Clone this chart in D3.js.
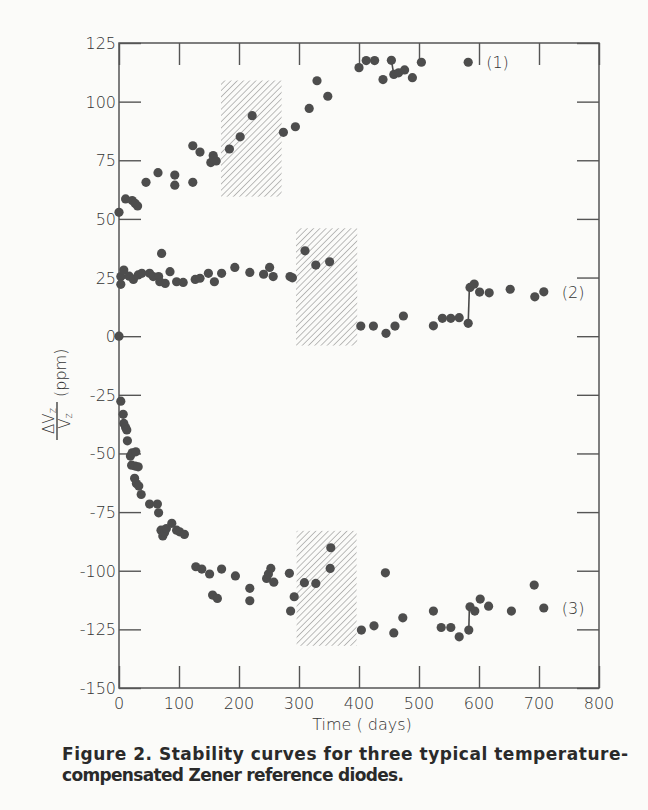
<!DOCTYPE html>
<html>
<head>
<meta charset="utf-8">
<script src="https://cdn.jsdelivr.net/npm/d3@7"></script>
<style>
  html, body { margin: 0; padding: 0; background: #fbfbf9; }
  svg { display: block; }
  text { font-family: "DejaVu Sans", "Lato", sans-serif; }
</style>
</head>
<body>
<svg id="chart" width="648" height="810"></svg>
<script>
// ---------- data (days, ppm) ----------
const series1 = [
  [0,52.8],[11,58.5],[22,57.8],[27,56.6],[31,55.5],[45,65.6],[65,69.7],[93,68.7],[93,64.4],
  [123,65.6],[123,81.2],[135,78.5],[153,74],[157,77],[162,74.7],[158,75.5],[184,79.8],[202,85],
  [222,94],[274,86.9],[294,89.3],[317,97.1],[330,108.9],[348,102.3],[400,114.5],[412,117.5],
  [426,117.5],[440,109.4],[454,117.6],[458,111.6],[466,112.3],[476,113.5],[489,110.2],[504,116.8],
  [582,116.8]
];
const series2 = [
  [0,0],[3,25.4],[3,22.1],[8,28.2],[17,25.6],[24,24.2],[32,26.1],[38,26.8],[51,26.8],[57,25.4],
  [66,25.4],[68,23.2],[71,35.3],[77,22.5],[85,27.5],[96,23.2],[107,22.9],[127,24.2],[135,24.7],
  [149,26.8],[159,23.2],[171,26.8],[193,29.3],[218,27.2],[241,26.4],[251,29.3],[257,25.4],
  [285,25.4],[289,24.9],[310,36.4],[328,30.3],[351,31.7],[403,4.3],[424,4.3],[445,1.2],[460,4.3],
  [474,8.6],[524,4.4],[539,7.6],[553,7.6],[567,7.9],[582,5.5],[585,20.8],[592,22.2],[601,18.8],
  [617,18.5],[652,20],[693,16.8],[708,18.9]
];
const series3 = [
  [3,-27.7],[7,-33.3],[8,-37.2],[11,-38.9],[13,-40],[14,-44.6],[19,-51.1],[21,-55],[22,-49.7],
  [27,-55.4],[28,-49.3],[32,-55.7],[26,-60.6],[29,-62.8],[33,-63.9],[37,-67.5],[51,-71.6],
  [64,-71.6],[66,-75.3],[70,-82.7],[73,-85.2],[76,-83.7],[79,-82],[88,-79.8],[96,-82.7],
  [101,-83.4],[109,-84.5],[128,-98.3],[138,-99.3],[151,-101.4],[156,-110.4],[164,-111.8],
  [171,-99.3],[194,-102.2],[218,-107.5],[218,-112.8],[246,-103.3],[249,-101.4],[253,-99],
  [258,-104.9],[284,-101.1],[286,-117.2],[292,-111.1],[309,-105.1],[328,-105.4],[352,-99],
  [353,-90.2],[404,-125.3],[425,-123.5],[444,-100.9],[458,-126.5],[473,-120.1],[524,-117.2],
  [537,-124.2],[553,-124.2],[567,-128.2],[583,-125.3],[585,-115.4],[593,-117.2],[602,-112.1],
  [616,-115.1],[654,-117.2],[692,-106.1],[708,-115.9]
];
// jumps joined by a line: [day1, val1, day2, val2]
const links = [
  [454,117.6,458,111.6],
  [582,5.5,584,20.8],
  [583,-125.3,584,-115.4]
];
// hatched periods: [dayStart, dayEnd, valLow, valHigh]
const hatches = [
  [170,271,59.5,109],
  [295,397,-4,46],
  [296,396,-132,-83]
];
const seriesLabels = [["(1)",582,116.8],["(2)",708,18.9],["(3)",708,-115.9]];
const xTicks = [0,100,200,300,400,500,600,700,800];
const yTicks = [125,100,75,50,25,0,-25,-50,-75,-100,-125,-150];

// ---------- layout ----------
const svg = d3.select("#chart");
const L = 119, R = 599, T = 43, B = 688;
const x = d3.scaleLinear().domain([0, 800]).range([L, R]);
const y = d3.scaleLinear().domain([-150, 125]).range([B, T]);
const ink = "#555";

// hatch pattern
const defs = svg.append("defs");
const pat = defs.append("pattern").attr("id","hatch").attr("patternUnits","userSpaceOnUse")
  .attr("width",4.4).attr("height",4.4).attr("patternTransform","rotate(45)");
pat.append("line").attr("x1",0).attr("y1",0).attr("x2",0).attr("y2",4.4)
  .attr("stroke","#555").attr("stroke-width",0.75);

svg.append("g").selectAll("rect").data(hatches).join("rect")
  .attr("x", d => x(d[0])).attr("width", d => x(d[1]) - x(d[0]))
  .attr("y", d => y(d[3])).attr("height", d => y(d[2]) - y(d[3]))
  .attr("fill","url(#hatch)");

// axes (inward ticks)
const tick = 22;
const gAx = svg.append("g");
gAx.append("rect").attr("x",L).attr("y",T).attr("width",R-L).attr("height",B-T)
  .attr("fill","none").attr("stroke",ink).attr("stroke-width",1.5);

const axL = d3.axisRight(y).tickValues(yTicks).tickSize(tick).tickFormat("");
const axR = d3.axisLeft(y).tickValues(yTicks).tickSize(tick).tickFormat("");
const axT = d3.axisBottom(x).tickValues(xTicks).tickSize(tick).tickFormat("");
const axB = d3.axisTop(x).tickValues(xTicks).tickSize(tick).tickFormat("");
[[axL,`translate(${L},0)`],[axR,`translate(${R},0)`],[axT,`translate(0,${T})`],[axB,`translate(0,${B})`]]
  .forEach(([a,t]) => {
    const g = gAx.append("g").attr("transform",t).call(a);
    g.select(".domain").remove();
    g.selectAll("line").attr("stroke",ink).attr("stroke-width",1.4);
  });

// tick labels
const gl = svg.append("g").attr("fill","#333").attr("font-size",16).attr("font-weight",200);
gl.selectAll(".yl").data(yTicks).join("text").attr("class","yl")
  .attr("x", L - 3).attr("y", d => y(d) + 6).attr("text-anchor","end").text(d => d);
gl.selectAll(".xl").data(xTicks).join("text").attr("class","xl")
  .attr("x", d => x(d)).attr("y", B + 21).attr("text-anchor","middle").text(d => d);
gl.append("text").attr("x", 362).attr("y", 730).attr("text-anchor","middle").text("Time ( days)");

// y-axis label (rotated fraction)
const ylab = svg.append("g").attr("transform","translate(57,421) rotate(-90)")
  .attr("fill","#333").attr("font-weight",200);
ylab.append("line").attr("x1",-19).attr("x2",19).attr("y1",0).attr("y2",0)
  .attr("stroke","#333").attr("stroke-width",1.3);
const num = ylab.append("text").attr("x",0).attr("y",-3).attr("text-anchor","middle").attr("font-size",15);
num.append("tspan").text("ΔV");
num.append("tspan").attr("font-size",10).attr("dy",2).text("z");
const den = ylab.append("text").attr("x",0).attr("y",13).attr("text-anchor","middle").attr("font-size",15);
den.append("tspan").text("V");
den.append("tspan").attr("font-size",10).attr("dy",2).text("z");
ylab.append("text").attr("x",24).attr("y",9).attr("font-size",16).text("(ppm)");

// jump links
svg.append("g").selectAll("line").data(links).join("line")
  .attr("x1", d => x(d[0])).attr("y1", d => y(d[1]))
  .attr("x2", d => x(d[2])).attr("y2", d => y(d[3]))
  .attr("stroke","#4a4a4a").attr("stroke-width",1.6);

// points
const allSeries = [series1, series2, series3];
svg.append("g").selectAll("g").data(allSeries).join("g")
  .selectAll("circle").data(d => d).join("circle")
  .attr("cx", d => x(d[0])).attr("cy", d => y(d[1])).attr("r", 4.6)
  .attr("fill","#4d4d4d");

// series labels
svg.append("g").attr("fill","#333").attr("font-size",16).attr("font-weight",200)
  .selectAll("text").data(seriesLabels).join("text")
  .attr("x", d => x(d[1]) + 18).attr("y", d => y(d[2]) + 6).text(d => d[0]);

// caption
const cap = svg.append("g").attr("fill","#2a2a2a").attr("font-size",17).attr("font-weight",700)
  .style("font-family", "'Open Sans', Lato, sans-serif");
cap.append("text").attr("x",62).attr("y",760).attr("textLength",566).attr("lengthAdjust","spacing")
  .text("Figure 2. Stability curves for three typical temperature-");
cap.append("text").attr("x",62).attr("y",781).attr("textLength",342).attr("lengthAdjust","spacing")
  .text("compensated Zener reference diodes.");
</script>
</body>
</html>
